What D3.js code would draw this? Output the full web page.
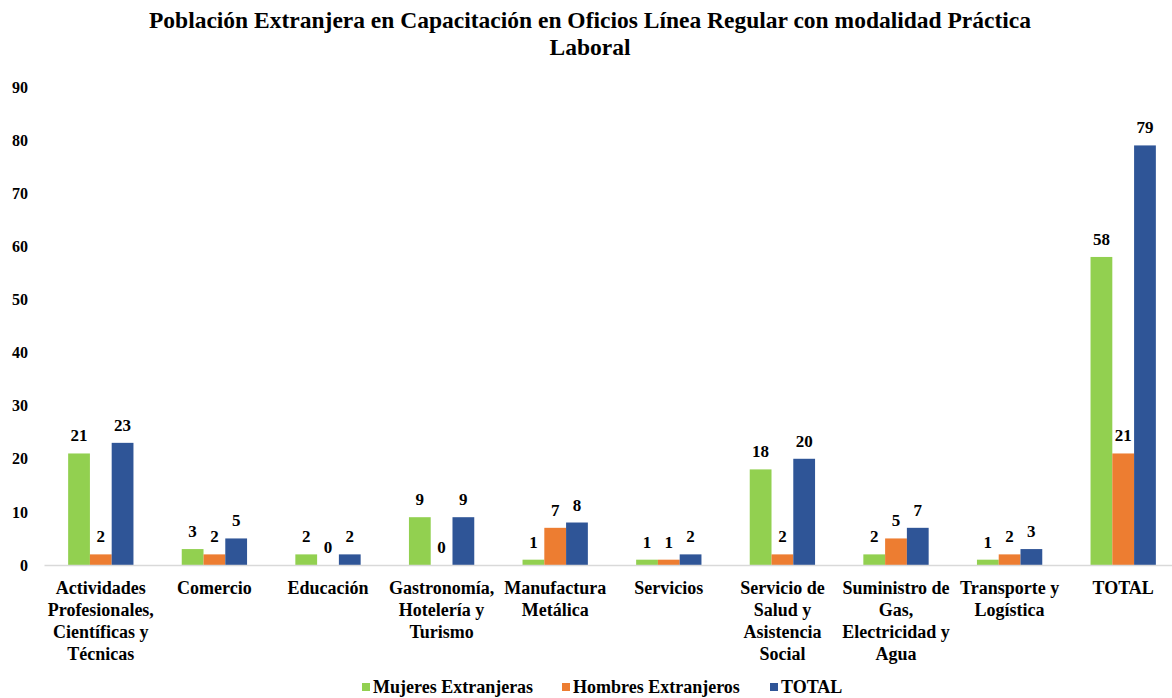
<!DOCTYPE html>
<html>
<head>
<meta charset="utf-8">
<script src="https://cdn.jsdelivr.net/npm/d3@7"></script>
<style>
  body { margin: 0; background: #fff; }
  svg { display: block; }
  svg text { font-family: "Liberation Serif", "Times New Roman", serif !important; font-weight: bold; }
</style>
</head>
<body>
<svg id="chart" width="1172" height="698"></svg>
<script>
// chart data
var categories = ["Actividades Profesionales, Científicas y Técnicas", "Comercio", "Educación",
  "Gastronomía, Hotelería y Turismo", "Manufactura Metálica", "Servicios",
  "Servicio de Salud y Asistencia Social", "Suministro de Gas, Electricidad y Agua",
  "Transporte y Logística", "TOTAL"];
var seriesNames = ["Mujeres Extranjeras", "Hombres Extranjeros", "TOTAL"];
var mujeres = [21, 3, 2, 9, 1, 1, 18, 2, 1, 58];
var hombres = [2, 2, 0, 0, 7, 1, 2, 5, 2, 21];
var totales = [23, 5, 2, 9, 8, 2, 20, 7, 3, 79];
var yTicks = [0, 10, 20, 30, 40, 50, 60, 70, 80, 90];
var colors = ["#92D050", "#ED7D31", "#2F5597"];
var titleLines = ["Población Extranjera en Capacitación en Oficios Línea Regular con modalidad Práctica", "Laboral"];

var series = [mujeres, hombres, totales];

var svg = d3.select("#chart"),
    plotLeft = 44, plotRight = 1180, plotTop = 87, plotBottom = 565;

var x = d3.scaleBand().domain(categories).range([plotLeft, plotRight]).paddingInner(0.425).paddingOuter(0.2125);
var x1 = d3.scaleBand().domain(d3.range(series.length)).range([0, x.bandwidth()]);
var y = d3.scaleLinear().domain([0, 90]).range([plotBottom, plotTop]);

// title
svg.append("g").selectAll("text")
    .data(titleLines)
    .enter().append("text")
    .attr("x", 590)
    .attr("y", function(d, i) { return 28 + i * 27; })
    .attr("text-anchor", "middle")
    .style("font-size", "23.5px")
    .attr("fill", "#000")
    .text(function(d) { return d; });

// y axis labels (no line)
var yAxis = d3.axisLeft(y).tickValues(yTicks).tickSize(0).tickPadding(0);
var gy = svg.append("g").attr("transform", "translate(28,0)").call(yAxis);
gy.select(".domain").remove();
gy.selectAll("text")
    .style("font-size", "16px")
    .attr("fill", "#000");

// bars
var groups = svg.append("g").selectAll("g")
    .data(categories)
    .enter().append("g")
    .attr("transform", function(d) { return "translate(" + x(d) + ",0)"; });

groups.each(function(cat, ci) {
    var g = d3.select(this);
    series.forEach(function(s, si) {
        g.append("rect")
            .attr("x", x1(si))
            .attr("width", x1.bandwidth())
            .attr("y", y(s[ci]))
            .attr("height", plotBottom - y(s[ci]))
            .attr("fill", colors[si]);
        g.append("text")
            .attr("x", x1(si) + x1.bandwidth() / 2)
            .attr("y", y(s[ci]) - 12)
            .attr("text-anchor", "middle")
            .style("font-size", "17px")
            .attr("fill", "#000")
            .text(s[ci]);
    });
});

// x axis
var xAxis = d3.axisBottom(x).tickSize(0).tickPadding(0);
var gx = svg.append("g").attr("transform", "translate(0," + plotBottom + ")").call(xAxis);
gx.select(".domain").attr("stroke", "#d9d9d9").attr("stroke-width", 1.5);
gx.selectAll("text").remove();

// wrapped category labels
var labels = svg.append("g").selectAll("text")
    .data(categories)
    .enter().append("text")
    .attr("text-anchor", "middle")
    .style("font-size", "18px")
    .attr("fill", "#000")
    .attr("y", 594);

labels.each(function(d) {
    var t = d3.select(this), words = d.split(" "), line = [], lines = [];
    var cx = x(d) + x.bandwidth() / 2, maxW = x.step();
    var tmp = t.append("tspan");
    words.forEach(function(w) {
        line.push(w);
        tmp.text(line.join(" "));
        if (tmp.node().getComputedTextLength() > maxW && line.length > 1) {
            line.pop();
            lines.push(line.join(" "));
            line = [w];
        }
    });
    lines.push(line.join(" "));
    tmp.remove();
    lines.forEach(function(l, i) {
        t.append("tspan").attr("x", cx).attr("y", 594 + i * 22).text(l);
    });
});

// legend
var legendX = [362, 562, 770];
var legend = svg.append("g").selectAll("g")
    .data(seriesNames)
    .enter().append("g")
    .attr("transform", function(d, i) { return "translate(" + legendX[i] + ",683)"; });
legend.append("rect").attr("width", 8).attr("height", 8).attr("fill", function(d, i) { return colors[i]; });
legend.append("text")
    .attr("x", 11)
    .attr("y", 10)
    .style("font-size", "18px")
    .attr("fill", "#000")
    .text(function(d) { return d; });
</script>
</body>
</html>
